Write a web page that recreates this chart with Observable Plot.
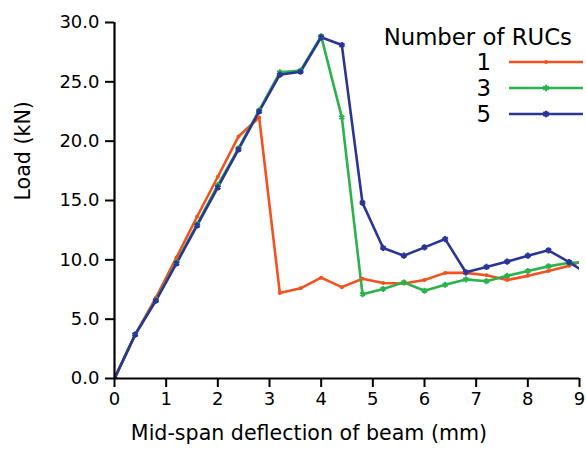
<!DOCTYPE html>
<html>
<head>
<meta charset="utf-8">
<script src="https://cdn.jsdelivr.net/npm/d3@7"></script>
<script src="https://cdn.jsdelivr.net/npm/@observablehq/plot@0.6"></script>
<style>
  body { margin: 0; background: #fff; font-family: "DejaVu Sans", sans-serif; }
  #wrap { position: relative; width: 586px; height: 455px; }
  #legend { position: absolute; left: 0; top: 0; pointer-events: none; }
</style>
</head>
<body>
<div id="wrap"><div id="chart"></div><svg id="legend" width="586" height="140"></svg></div>
<script>
// Mid-span deflection (mm)
const deflection = [0, 0.4, 0.8, 1.2, 1.6, 2.0, 2.4, 2.8, 3.2, 3.6, 4.0, 4.4, 4.8, 5.2, 5.6, 6.0, 6.4, 6.8, 7.2, 7.6, 8.0, 8.4, 8.8, 9.2];
// Load (kN) per number of RUCs
const load1 = [0, 3.7, 6.8, 10.2, 13.65, 17.0, 20.4, 22.0, 7.2, 7.6, 8.5, 7.7, 8.4, 8.05, 8.0, 8.3, 8.9, 8.9, 8.7, 8.3, 8.65, 9.05, 9.5, 10.1];
const load3 = [0, 3.7, 6.6, 9.8, 13.0, 16.3, 19.4, 22.6, 25.8, 25.95, 28.85, 22.0, 7.1, 7.55, 8.1, 7.4, 7.9, 8.35, 8.2, 8.65, 9.05, 9.45, 9.75, 9.8];
const load5 = [0, 3.7, 6.55, 9.7, 12.9, 16.1, 19.3, 22.5, 25.6, 25.85, 28.75, 28.1, 14.8, 11.0, 10.35, 11.05, 11.75, 8.95, 9.4, 9.85, 10.35, 10.8, 9.8, 8.7];
const seriesNames = ["1", "3", "5"];
const seriesColors = ["#f4511e", "#2bb24c", "#2b3595"];
const seriesSymbols = ["circle", "asterisk", "asterisk"];
const xTicks = [0, 1, 2, 3, 4, 5, 6, 7, 8, 9];
const yTicks = [0, 5, 10, 15, 20, 25, 30];

const FONT = "DejaVu Sans, sans-serif";
const loads = [load1, load3, load5];
const rows = [];
seriesNames.forEach((s, i) => deflection.forEach((d, j) => rows.push({series: s, x: d, y: loads[i][j]})));

const chart = Plot.plot({
  width: 586,
  height: 455,
  marginLeft: 114,
  marginRight: 7,
  marginTop: 22,
  marginBottom: 77,
  style: {fontFamily: FONT, fontSize: "18px", color: "#000", background: "#fff"},
  x: {domain: [0, 9], ticks: xTicks, tickSize: 9, tickPadding: 5, label: null},
  y: {domain: [0, 30], ticks: yTicks, tickSize: 9, tickPadding: 6, tickFormat: d3.format(".1f"), label: null},
  color: {domain: seriesNames, range: seriesColors},
  symbol: {domain: seriesNames, range: seriesSymbols},
  marks: [
    Plot.line(rows, {x: "x", y: "y", z: "series", stroke: "series", strokeWidth: 2.6, clip: true}),
    Plot.dot(rows.filter(d => d.series === "1"), {x: "x", y: "y", fill: "series", r: 2, symbol: "circle", clip: true}),
    Plot.dot(rows.filter(d => d.series === "3"), {x: "x", y: "y", stroke: "series", strokeWidth: 2, r: 2.8, symbol: "asterisk", clip: true}),
    Plot.dot(rows.filter(d => d.series === "5"), {x: "x", y: "y", fill: "series", stroke: "series", strokeWidth: 2.2, r: 2.9, symbol: "asterisk", clip: true}),
    Plot.ruleX([0], {stroke: "#000", strokeWidth: 2.2}),
    Plot.ruleY([0], {stroke: "#000", strokeWidth: 2.2}),
    Plot.text(["Mid-span deflection of beam (mm)"], {frameAnchor: "bottom", dx: -38, dy: 61, fontSize: 20.6, fill: "#000"}),
    Plot.text(["Load (kN)"], {frameAnchor: "left", dx: -91, rotate: -90, fontSize: 20.6, fill: "#000"})
  ]
});
// thicken axis tick strokes
chart.querySelectorAll('g[aria-label="x-axis tick"], g[aria-label="y-axis tick"]').forEach(g => { g.setAttribute("stroke-width", 2); g.setAttribute("stroke", "#000"); });
document.getElementById("chart").appendChild(chart);

// Legend
const lg = d3.select("#legend");
lg.append("text").attr("x", 572).attr("y", 45).attr("text-anchor", "end")
  .attr("font-size", 22.8).attr("font-family", FONT).text("Number of RUCs");
seriesNames.forEach((s, i) => {
  const y = 62 + i * 26;
  lg.append("text").attr("x", 491).attr("y", y + 8).attr("text-anchor", "end")
    .attr("font-size", 22.8).attr("font-family", FONT).text(s);
  lg.append("line").attr("x1", 509).attr("x2", 583).attr("y1", y).attr("y2", y)
    .attr("stroke", seriesColors[i]).attr("stroke-width", 2.6);
  const sym = d3.symbol().type(i === 0 ? d3.symbolCircle : d3.symbolAsterisk).size(i === 0 ? 12 : 30)();
  const p = lg.append("path").attr("d", sym).attr("transform", `translate(546,${y})`);
  if (i === 0) p.attr("fill", seriesColors[i]).attr("stroke", "none");
  else p.attr("fill", "none").attr("stroke", seriesColors[i]).attr("stroke-width", i === 1 ? 2 : 2.4);
});
</script>
</body>
</html>
